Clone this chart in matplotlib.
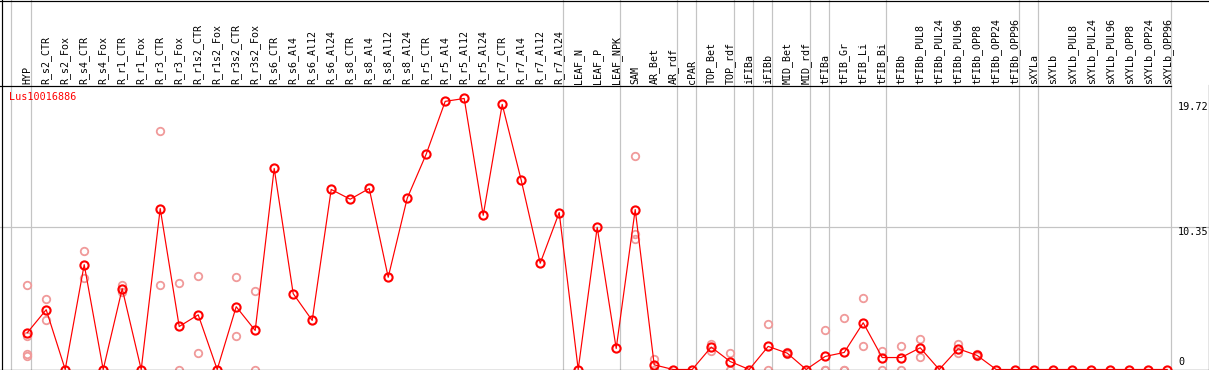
import matplotlib
matplotlib.use("Agg")
import matplotlib.pyplot as plt
from matplotlib.lines import Line2D
import matplotlib.transforms as mtransforms

# ---------------- data ----------------
gene = "Lus10016886"

categories = [
    "HYP", "R_s2_CTR", "R_s2_Fox", "R_s4_CTR", "R_s4_Fox", "R_r1_CTR", "R_r1_Fox",
    "R_r3_CTR", "R_r3_Fox", "R_r1s2_CTR", "R_r1s2_Fox", "R_r3s2_CTR", "R_r3s2_Fox",
    "R_s6_CTR", "R_s6_Al4", "R_s6_Al12", "R_s6_Al24", "R_s8_CTR", "R_s8_Al4",
    "R_s8_Al12", "R_s8_Al24", "R_r5_CTR", "R_r5_Al4", "R_r5_Al12", "R_r5_Al24",
    "R_r7_CTR", "R_r7_Al4", "R_r7_Al12", "R_r7_Al24", "LEAF_N", "LEAF_P", "LEAF_NPK",
    "SAM", "AR_Bet", "AR_rdf", "cPAR", "TOP_Bet", "TOP_rdf", "iFIBa", "iFIBb",
    "MID_Bet", "MID_rdf", "tFIBa", "tFIB_Gr", "tFIB_Li", "tFIB_Bi", "tFIBb",
    "tFIBb_PUL8", "tFIBb_PUL24", "tFIBb_PUL96", "tFIBb_OPP8", "tFIBb_OPP24",
    "tFIBb_OPP96", "sXYLa", "sXYLb", "sXYLb_PUL8", "sXYLb_PUL24", "sXYLb_PUL96",
    "sXYLb_OPP8", "sXYLb_OPP24", "sXYLb_OPP96",
]

group_sizes = [1, 28, 3, 3, 1, 2, 1, 1, 2, 1, 3, 7, 1, 7]

means = [
    2.67, 4.35, 0.0, 7.63, 0.0, 5.88, 0.0, 11.71, 3.13, 3.98, 0.0, 4.57, 2.84,
    14.63, 5.52, 3.57, 13.10, 12.39, 13.17, 6.71, 12.46, 15.67, 19.51, 19.72,
    11.22, 19.29, 13.78, 7.73, 11.42, 0.0, 10.35, 1.53, 11.64, 0.34, 0.0, 0.0,
    1.63, 0.58, 0.0, 1.68, 1.19, 0.0, 0.95, 1.24, 3.40, 0.87, 0.87, 1.58, 0.0,
    1.51, 1.02, 0.0, 0.0, 0.0, 0.0, 0.0, 0.0, 0.0, 0.0, 0.0, 0.0,
]

replicates = {
    "HYP": [6.12, 2.41, 1.14, 0.95],
    "R_s2_CTR": [5.15, 3.62],
    "R_s4_CTR": [8.65, 6.68],
    "R_r1_CTR": [6.17, 5.64],
    "R_r3_CTR": [17.35, 6.12],
    "R_r3_Fox": [6.32, 0.0],
    "R_r1s2_CTR": [6.78, 1.20],
    "R_r3s2_CTR": [6.71, 2.41],
    "R_r3s2_Fox": [5.69, 0.0],
    "SAM": [15.50, 9.84, 9.50],
    "AR_Bet": [0.75, 0.0],
    "TOP_Bet": [1.87, 1.34],
    "TOP_rdf": [1.20, 0.0],
    "iFIBb": [3.33, 0.0],
    "MID_Bet": [1.30, 1.10],
    "tFIBa": [2.84, 0.0, 0.0],
    "tFIB_Gr": [3.72, 0.0, 0.0],
    "tFIB_Li": [5.22, 1.72],
    "tFIB_Bi": [1.38, 0.0],
    "tFIBb": [1.72, 0.0],
    "tFIBb_PUL8": [2.24, 0.92],
    "tFIBb_PUL96": [1.85, 1.19],
    "tFIBb_OPP8": [1.10, 0.95],
}

ytick_values = [19.72, 10.35, 0]
ytick_labels = ["19.72", "10.35", "0"]
y_mid = 10.35
y_top = 20.70

# ---------------- layout ----------------
W, H = 1209, 370
fig = plt.figure(figsize=(W / 100, H / 100), dpi=100)
ax = fig.add_axes([0, 0, 1, 1])
ax.axis("off")

x0_px, step_px = 27.2, 19.0      # centre of first column / column pitch
zero_px, header_px = 369.5, 85.0  # y pixel of value 0 and of header line
scale = (zero_px - header_px) / y_top
ax.set_xlim((0 - x0_px) / step_px, (W - x0_px) / step_px)
ax.set_ylim((zero_px - H) / scale, zero_px / scale)

mono = "DejaVu Sans Mono"
grid_c = "#c4c4c4"
px = 0.72  # one pixel in points

def fx(x):
    return x / W

def fy(y):
    return 1 - y / H

# borders
for (xa, ya, xb, yb) in [(0, 0.5, W, 0.5), (1.5, 0, 1.5, H), (0, 369.5, W, 369.5),
                         (1208.5, header_px, 1208.5, H), (0, header_px + 0.5, 1171, header_px + 0.5)]:
    fig.add_artist(Line2D([fx(xa), fx(xb)], [fy(ya), fy(yb)], transform=fig.transFigure,
                          color="black", lw=1.2 * px, zorder=10))

# vertical group separators
sep_positions = [-0.84]
end = -1
for g in group_sizes:
    end += g
    sep_positions.append(end + 0.21)
for s in sep_positions:
    ax.axvline(s, color=grid_c, lw=1.2 * px, zorder=1)

# horizontal mid gridline
ax.axhline(y_mid, color=grid_c, lw=1.2 * px, zorder=1)

# header labels
hdr = mtransforms.blended_transform_factory(ax.transData, ax.transAxes)
for i, name in enumerate(categories):
    ax.text(i, fy(header_px - 1.5), name, rotation=90, ha="center", va="bottom",
            fontsize=7.2, family=mono, transform=hdr, color="black")

# gene label
ax.text(fx(9), fy(97), gene, color="red", fontsize=7.3, family=mono,
        ha="left", va="center", transform=ax.transAxes)

# y labels on the right
ylab_offsets = [9.0, 5.0, -7.5]
for v, lab, off in zip(ytick_values, ytick_labels, ylab_offsets):
    ypix = zero_px - v * scale + off
    ax.text(fx(1178), fy(ypix), lab, fontsize=7.3, family=mono, ha="left",
            va="center", transform=ax.transAxes, color="black")

# replicate points
rx, ry = [], []
for name, vals in replicates.items():
    i = categories.index(name)
    for v in vals:
        rx.append(i)
        ry.append(v)
ax.plot(rx, ry, linestyle="none", marker="o", markersize=5.4, markerfacecolor="none",
        markeredgecolor="#f09a9a", markeredgewidth=1.3, zorder=3, clip_on=True)

# mean line
xs = list(range(len(categories)))
ax.plot(xs, means, color="red", lw=1.2 * px, zorder=4)
ax.plot(xs, means, linestyle="none", marker="o", markersize=5.9, markerfacecolor="none",
        markeredgecolor="red", markeredgewidth=1.5, zorder=5)

fig.savefig("out.png", dpi=100)
